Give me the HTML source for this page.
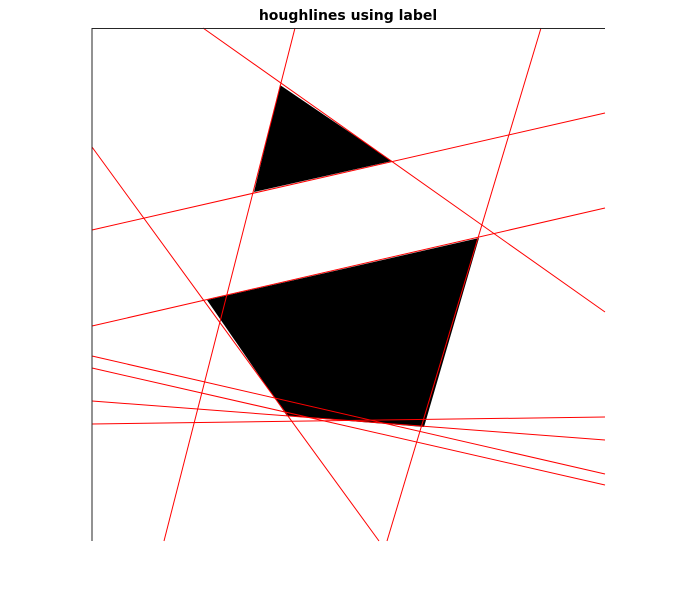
<!DOCTYPE html>
<html><head><meta charset="utf-8"><style>
body{margin:0;background:#fff;width:699px;height:604px;overflow:hidden}
text{font-family:"DejaVu Sans","Liberation Sans",sans-serif}
</style></head><body>
<svg id="chart" width="699" height="604" viewBox="0 0 699 604">
<rect x="0" y="0" width="699" height="604" fill="#fff"/>
<text x="348" y="20" text-anchor="middle" font-size="14" font-weight="bold" fill="#000">houghlines using label</text>
<g id="shapes"></g>
<g id="lines"></g>
<line x1="92" y1="28" x2="92" y2="541" stroke="#262626" stroke-width="1"/>
<line x1="92" y1="28.5" x2="605" y2="28.5" stroke="#262626" stroke-width="1"/>
</svg>
<script>
// image pixel coordinates (0..513)
const lineX1 = [111, 203, 449, 0, 0, 0, 0, 0, 0, 0];
const lineY1 = [0, 0, 0, 119, 202, 298, 328, 340, 373, 396];
const lineX2 = [513, 72, 295, 287, 513, 513, 513, 513, 513, 513];
const lineY2 = [284, 513, 513, 513, 85, 180, 446, 457, 412, 389];
const triX = [188, 300, 162];
const triY = [57, 133, 164];
const quadX = [115, 387, 332, 195];
const quadY = [272, 210, 399, 388];
const ox = 92, oy = 28;
function sx(v){return ox + v;}
function sy(v){return oy + v;}
const NS = 'http://www.w3.org/2000/svg';
const shapes = document.getElementById('shapes');
function poly(xs, ys, name){
  const p = document.createElementNS(NS, 'polygon');
  p.setAttribute('points', xs.map((x,i)=>sx(x)+','+sy(ys[i])).join(' '));
  p.setAttribute('fill', '#000');
  
  
  shapes.appendChild(p);
}
poly(triX, triY, 'triangle-shape');
poly(quadX, quadY, 'quad-shape');
const lg = document.getElementById('lines');
for (let i = 0; i < lineX1.length; i++) {
  const l = document.createElementNS(NS, 'line');
  l.setAttribute('x1', sx(lineX1[i]));
  l.setAttribute('y1', sy(lineY1[i]));
  l.setAttribute('x2', sx(lineX2[i]));
  l.setAttribute('y2', sy(lineY2[i]));
  l.setAttribute('stroke', '#ff0000');
  l.setAttribute('stroke-width', '1');
  
  
  lg.appendChild(l);
}
</script>
</body></html>
